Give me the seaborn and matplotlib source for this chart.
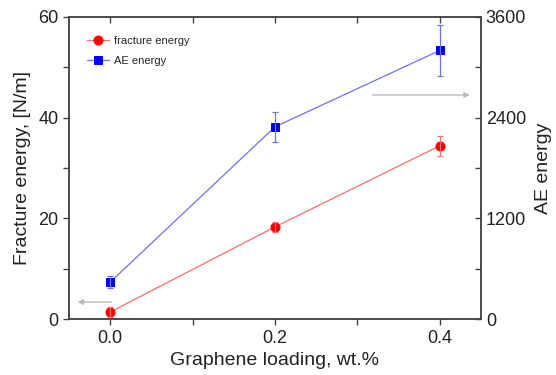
import numpy as np
import pandas as pd
import matplotlib
matplotlib.use("Agg")
import matplotlib.pyplot as plt
import seaborn as sns

# данные
loading = [0.0, 0.2, 0.4]
fracture_energy = [1.4, 18.3, 34.4]
fracture_err = [1.0, 1.0, 2.0]
ae_energy = [440, 2290, 3200]
ae_err = [75, 175, 300]

df = pd.DataFrame({
    "loading": loading,
    "fracture": fracture_energy,
    "fracture_err": fracture_err,
    "ae": ae_energy,
    "ae_err": ae_err,
})

sns.set_style("ticks")
plt.rcParams['font.family'] = ['Liberation Sans', 'DejaVu Sans']

fig, ax = plt.subplots(figsize=(5.56, 3.75), dpi=100)
fig.subplots_adjust(left=0.124, right=0.865, top=0.955, bottom=0.149)
ax2 = ax.twinx()

# fracture energy (левая ось)
sns.lineplot(data=df, x="loading", y="fracture", ax=ax, color="#f07070",
             linewidth=0.9, marker="o", markersize=6.5,
             markerfacecolor="red", markeredgecolor="red",
             label="fracture energy", legend=False)
ax.errorbar(df["loading"], df["fracture"], yerr=df["fracture_err"], fmt="none",
            ecolor="#f07070", elinewidth=0.9, capsize=2.5, capthick=0.9)

# AE energy (правая ось)
sns.lineplot(data=df, x="loading", y="ae", ax=ax2, color="#7070f0",
             linewidth=0.9, marker="s", markersize=5.5,
             markerfacecolor="blue", markeredgecolor="blue",
             label="AE energy", legend=False)
ax2.errorbar(df["loading"], df["ae"], yerr=df["ae_err"], fmt="none",
             ecolor="#7070f0", elinewidth=0.9, capsize=2.5, capthick=0.9)

ax.set_xlim(-0.05, 0.45)
ax.set_ylim(0, 60)
ax2.set_ylim(0, 3600)
ax.set_xticks([0.0, 0.2, 0.4])
ax.set_xticks([0.1, 0.3], minor=True)
ax.set_xticklabels(["0.0", "0.2", "0.4"])
ax.set_yticks([0, 20, 40, 60])
ax.set_yticks([10, 30, 50], minor=True)
ax2.set_yticks([0, 1200, 2400, 3600])
ax2.set_yticks([600, 1800, 3000], minor=True)

for a in (ax, ax2):
    for s in a.spines.values():
        s.set_color("#444444")
        s.set_linewidth(1.1)

ax.tick_params(axis="both", which="both", labelsize=13, colors="#444444",
               labelcolor="#222222", length=4, width=1)
ax2.tick_params(axis="y", which="both", direction="in", labelsize=13,
                colors="#444444", labelcolor="#222222", length=4, width=1)

# верхние засечки внутрь
top = ax.secondary_xaxis("top")
top.set_xticks([0.0, 0.2, 0.4])
top.set_xticks([0.1, 0.3], minor=True)
top.tick_params(axis="x", which="both", direction="in", length=4, width=1,
                colors="#444444", labeltop=False)
top.spines["top"].set_visible(False)

ax.set_xlabel("Graphene loading, wt.%", fontsize=14, color="#222222", labelpad=4)
ax.set_ylabel("Fracture energy, [N/m]", fontsize=14, color="#222222", labelpad=5)
ax2.set_ylabel("AE energy", fontsize=14, color="#222222", labelpad=6)

h1, l1 = ax.get_legend_handles_labels()
h2, l2 = ax2.get_legend_handles_labels()
ax2.legend(h1 + h2, l1 + l2, loc="upper left", frameon=False, fontsize=8,
           handlelength=2.0, labelspacing=0.9, handletextpad=0.4,
           bbox_to_anchor=(0.02, 0.97))

# серые стрелки, указывающие ось
ax.annotate("", xy=(-0.043, 3.4), xytext=(0.005, 3.4),
            arrowprops=dict(arrowstyle="-|>", color="#bbbbbb", lw=1, mutation_scale=8))
ax.annotate("", xy=(0.44, 44.5), xytext=(0.315, 44.5),
            arrowprops=dict(arrowstyle="-|>", color="#bbbbbb", lw=1, mutation_scale=8))

fig.savefig("out.png", dpi=100)
